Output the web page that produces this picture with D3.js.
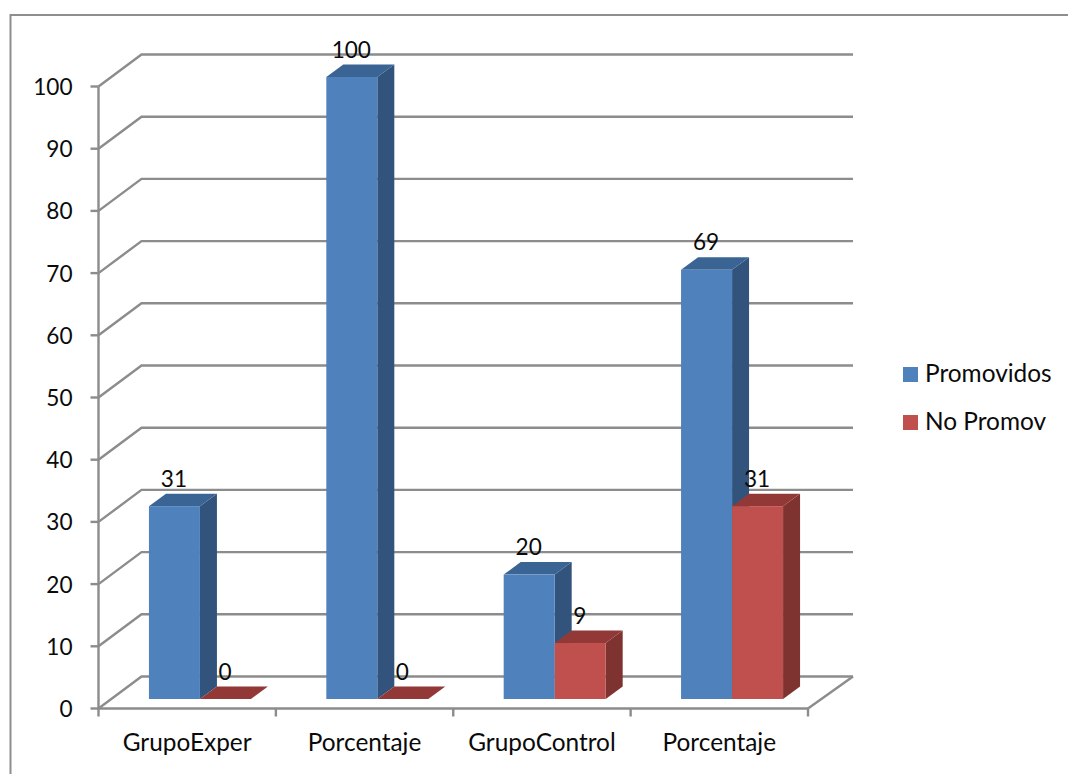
<!DOCTYPE html>
<html>
<head>
<meta charset="utf-8">
<script src="https://cdn.jsdelivr.net/npm/d3@7/dist/d3.min.js"></script>
<style>
  html, body { margin: 0; padding: 0; background: #fff; }
  svg { display: block; }
  text { font-family: Lato, "Open Sans", sans-serif; font-size: 24.4px; fill: #0a0a0a; }
  text.num { font-size: 22.6px; }
</style>
</head>
<body>
<svg id="chart" width="1068" height="774"></svg>
<script>
// Results per group
const categories = ["GrupoExper", "Porcentaje", "GrupoControl", "Porcentaje"];
const seriesNames = ["Promovidos", "No Promov"];
const promovidos = [31, 100, 20, 69];
const noPromov = [0, 0, 9, 31];
const yTicks = [0, 10, 20, 30, 40, 50, 60, 70, 80, 90, 100];

const faceColors = ["#4F81BD", "#C0504D"];
const sideColors = ["#32547C", "#7E3331"];
const topColors = ["#3A6494", "#923938"];
const gridColor = "#8C8C8C";

const svg = d3.select("#chart");

const x = d3.scaleBand().domain(d3.range(categories.length)).range([98.5, 808]);
const y = d3.scaleLinear().domain([0, 100]).range([708.5, 86.5]);
const inner = d3.scaleBand().domain(d3.range(seriesNames.length)).range([0, 102]);

// Oblique projection: wall depth, floor inset of the bars, depth of each bar
const wall = { dx: 43, dy: -32 };
const inset = { dx: 12.75, dy: -9.5 };
const bar = { dx: 17, dy: -12.5 };
const line = d3.line();

// Chart frame: only the top and left edges fall inside the page
svg.append("path")
  .attr("d", line([[10.5, 774], [10.5, 15], [1068, 15]]))
  .attr("fill", "none").attr("stroke", "#8E8E8E").attr("stroke-width", 2);

// Wall and floor gridlines
const grid = svg.append("g").attr("fill", "none").attr("stroke", gridColor).attr("stroke-width", 2.4);
grid.selectAll("path.h").data(yTicks).join("path").attr("class", "h")
  .attr("d", t => line([
    [x.range()[0], y(t)],
    [x.range()[0] + wall.dx, y(t) + wall.dy],
    [x.range()[1] + wall.dx + 2, y(t) + wall.dy]
  ]));
// Floor edges and axes
grid.append("path").attr("d", line([
  [x.range()[1], y(0)],
  [x.range()[1] + wall.dx + 2, y(0) + wall.dy]
]));
grid.append("path").attr("d", line([[x.range()[0], y(100)], [x.range()[0], y(0)], [x.range()[1], y(0)]]));
grid.selectAll("path.ytick").data(yTicks).join("path").attr("class", "ytick")
  .attr("d", t => line([[x.range()[0] - 8, y(t)], [x.range()[0], y(t)]]));
const xEdges = d3.range(categories.length + 1).map(i => x.range()[0] + i * x.step());
grid.selectAll("path.xtick").data(xEdges).join("path").attr("class", "xtick")
  .attr("d", d => line([[d, y(0)], [d, y(0) + 8]]));

// Bars, back to front per group so each one overlaps its neighbour's side
const rows = [];
categories.forEach((c, i) => {
  [promovidos[i], noPromov[i]].forEach((v, s) => rows.push({ i, s, v }));
});

const groups = svg.append("g").selectAll("g").data(rows).join("g");
const left = d => x(d.i) + (x.bandwidth() - inner.step() * 2) / 2 + inset.dx + inner(d.s);
const right = d => left(d) + inner.bandwidth();
const base = y(0) + inset.dy;
const topY = d => y(d.v) + inset.dy;

groups.append("path").attr("fill", d => sideColors[d.s]).attr("d", d => line([
  [right(d), base], [right(d) + bar.dx, base + bar.dy],
  [right(d) + bar.dx, topY(d) + bar.dy], [right(d), topY(d)]
]) + "Z");
groups.append("path").attr("fill", d => topColors[d.s]).attr("d", d => line([
  [left(d), topY(d)], [left(d) + bar.dx, topY(d) + bar.dy],
  [right(d) + bar.dx, topY(d) + bar.dy], [right(d), topY(d)]
]) + "Z");
groups.append("rect").attr("fill", d => faceColors[d.s])
  .attr("x", left).attr("y", topY)
  .attr("width", inner.bandwidth()).attr("height", d => base - topY(d));

// Value labels
svg.append("g").selectAll("text").data(rows).join("text")
  .attr("class", "num")
  .attr("text-anchor", "middle")
  .attr("x", d => left(d) + inner.bandwidth() / 2 - 0.5)
  .attr("y", d => topY(d) - 19.5)
  .text(d => d.v);

// Value axis labels
svg.append("g").selectAll("text").data(yTicks).join("text")
  .attr("class", "num")
  .attr("text-anchor", "end")
  .attr("x", 72.5).attr("y", t => y(t) + 8.5)
  .text(t => t);

// Category labels
svg.append("g").selectAll("text").data(categories).join("text")
  .attr("text-anchor", "middle")
  .attr("x", (c, i) => x(i) + x.bandwidth() / 2)
  .attr("y", 750.5)
  .text(c => c);

// Legend
const legend = svg.append("g").selectAll("g").data(seriesNames).join("g")
  .attr("transform", (n, i) => `translate(903,${367 + i * 48})`);
legend.append("rect").attr("width", 15).attr("height", 15).attr("fill", (n, i) => faceColors[i]);
legend.append("text").attr("x", 22).attr("y", 15).text(n => n);
</script>
</body>
</html>
